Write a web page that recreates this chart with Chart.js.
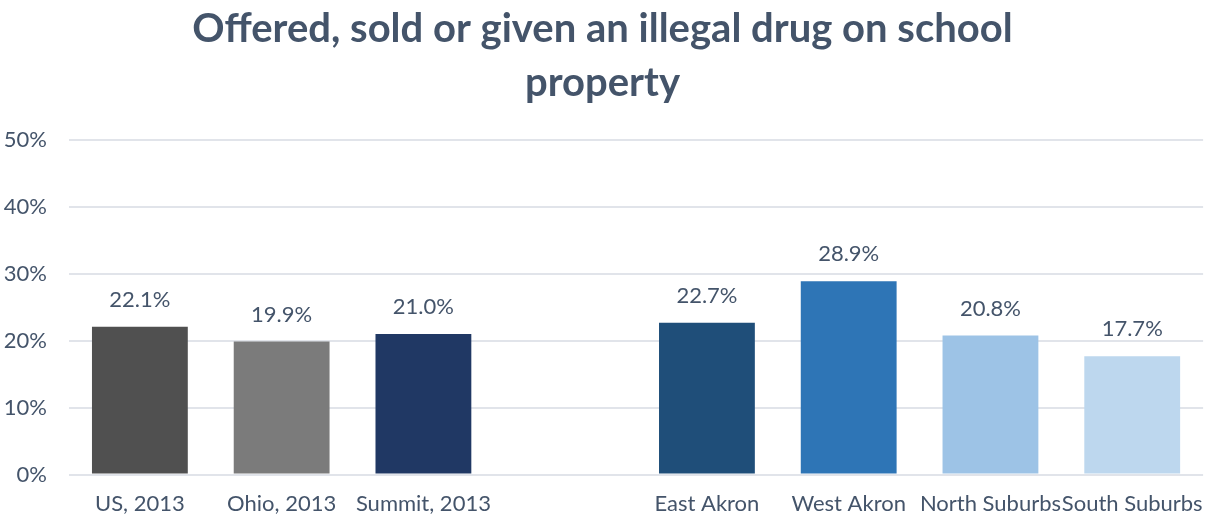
<!DOCTYPE html>
<html>
<head>
<meta charset="utf-8">
<script src="https://cdn.jsdelivr.net/npm/chart.js@4"></script>
<style>
  html, body { margin: 0; padding: 0; background: #fff; }
  #wrap { width: 1211px; height: 516px; position: relative; }
</style>
</head>
<body>
<div id="wrap"><canvas id="drugChart"></canvas></div>
<script>
// data
const categories = ['US, 2013', 'Ohio, 2013', 'Summit, 2013', '', 'East Akron', 'West Akron', 'North Suburbs', 'South Suburbs'];
const values     = [22.1, 19.9, 21.0, null, 22.7, 28.9, 20.8, 17.7];
const barColors  = ['#505050', '#7b7b7b', '#203864', '#ffffff', '#1f4e79', '#2e75b6', '#9dc3e6', '#bdd7ee'];
const yTicks     = [0, 10, 20, 30, 40, 50];
const titleLines = ['Offered, sold or given an illegal drug on school', 'property'];

const TEXT = '#44546a';
const FONT = 'Lato, "Open Sans", sans-serif';

// draws "22.1%" above each bar
const valueLabels = {
    id: 'valueLabels',
    afterDatasetsDraw(chart) {
        const ctx = chart.ctx;
        const meta = chart.getDatasetMeta(0);
        ctx.save();
        ctx.font = '22px ' + FONT;
        ctx.fillStyle = TEXT;
        ctx.textAlign = 'center';
        ctx.textBaseline = 'bottom';
        meta.data.forEach((bar, i) => {
            if (values[i] == null) return;
            ctx.fillText(values[i].toFixed(1) + '%', bar.x, bar.y - 16);
        });
        ctx.restore();
    }
};

new Chart(document.getElementById('drugChart').getContext('2d'), {
    type: 'bar',
    data: {
        labels: categories,
        datasets: [{ data: values, backgroundColor: barColors, categoryPercentage: 1, barPercentage: 0.676 }]
    },
    options: {
        responsive: true,
        maintainAspectRatio: false,
        animation: false,
        layout: { padding: { left: 0, right: 6, top: 0, bottom: -9 } },
        plugins: {
            legend: { display: false },
            tooltip: { enabled: false },
            title: {
                display: true,
                text: titleLines,
                color: TEXT,
                font: { family: FONT, size: 40, weight: 'bold', lineHeight: 1.35 },
                padding: { top: 2, bottom: 30 }
            }
        },
        scales: {
            x: {
                grid: { display: false },
                border: { display: false },
                ticks: {
                    color: TEXT, font: { family: FONT, size: 22 },
                    autoSkip: false, maxRotation: 0, minRotation: 0, padding: 8
                }
            },
            y: {
                min: 0, max: 50,
                afterFit(scale) { scale.width = 69; },
                afterBuildTicks(scale) { scale.ticks = yTicks.map(v => ({ value: v })); },
                grid: { color: '#e1e4ea', lineWidth: 2, drawTicks: false },
                border: { display: false },
                ticks: {
                    color: TEXT, font: { family: FONT, size: 22 }, padding: 22,
                    callback: v => v + '%'
                }
            }
        }
    },
    plugins: [valueLabels]
});
</script>
</body>
</html>
